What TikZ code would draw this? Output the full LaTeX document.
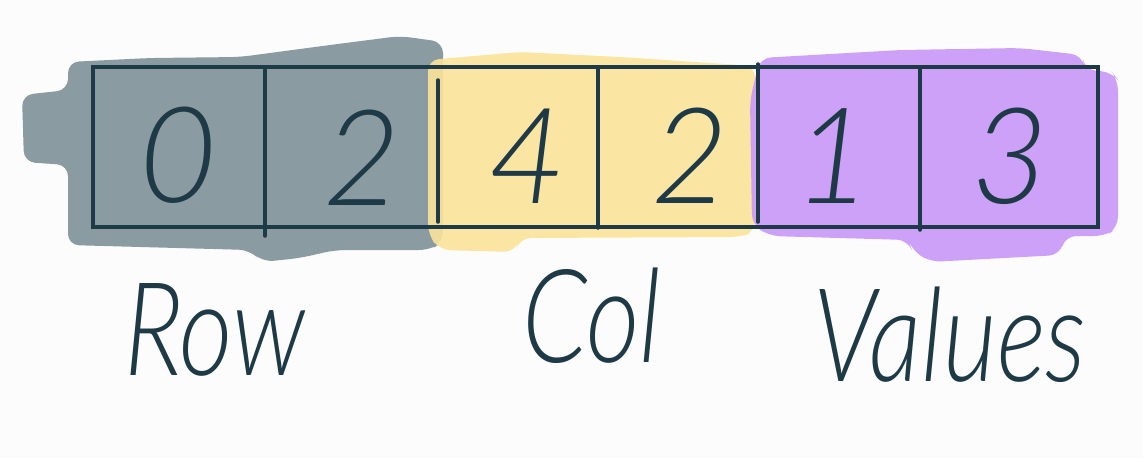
\documentclass[tikz,border=0pt]{standalone}
\usepackage{fontspec}
\setmainfont{Lato Light}
\definecolor{bg}{HTML}{FCFCFC}
\definecolor{ink}{HTML}{1E3A46}
\definecolor{hgrey}{HTML}{8A9BA1}
\definecolor{hyellow}{HTML}{FBE39A}
\definecolor{hpurple}{HTML}{C99AF8}
\tikzset{
  hl/.style={rounded corners=0.22cm, draw=none},
  grid/.style={draw=ink, line width=2pt, line cap=round},
  digit/.style={text=ink, font=\fontsize{76}{80}\selectfont\itshape, inner sep=0pt},
  lab/.style={text=ink, font=\fontsize{74}{78}\selectfont\itshape, inner sep=0pt, xscale=0.8}
}
\begin{document}
\begin{tikzpicture}[x=0.02cm, y=-0.02cm]
\fill[bg] (0,0) rectangle (1143,458);
\useasboundingbox (0,0) rectangle (1143,458);
% highlights
\fill[hgrey, hl] (68,62) -- (150,58) -- (240,57) -- (330,45) -- (400,36) -- (443,42)
  -- (443,242) -- (430,250) -- (335,250) -- (300,258) -- (262,262) -- (250,250)
  -- (68,245) -- (68,165) -- (24,162) -- (22,95) -- (68,90) -- cycle;
\fill[hyellow, hl, fill opacity=0.9] (428,60) -- (520,52) -- (620,57) -- (755,66)
  -- (755,232) -- (740,237) -- (520,238) -- (515,252) -- (440,250) -- (428,235) -- cycle;
\fill[hpurple, hl, fill opacity=0.92] (760,58) -- (900,50) -- (1020,48) -- (1082,55)
  -- (1085,70) -- (1112,72) -- (1118,80) -- (1118,228) -- (1105,236) -- (1065,236)
  -- (1060,255) -- (930,262) -- (912,250) -- (908,240) -- (770,236) -- (752,225)
  -- (750,100) -- cycle;
% array
\draw[grid] (93,67) rectangle (1098,227);
\draw[grid] (265,70) -- (265,236);
\draw[grid] (438,80) -- (438,222);
\draw[grid] (598,67) -- (598,228);
\draw[grid] (758,64) -- (758,222);
\draw[grid] (920,67) -- (920,230);
% digits
\node[digit] (d0) at (178,155) {0};
\node[digit] (d1) at (362,158) {2};
\node[digit] (d2) at (527,156) {4};
\node[digit] (d3) at (690,156) {2};
\node[digit] (d4) at (833,156) {1};
\node[digit] (d5) at (1010,156) {3};
% labels
\node[lab] (row) at (215,330) {Row};
\node[lab] (col) at (592,316) {Col};
\node[lab] (val) at (950,335) {Values};
\end{tikzpicture}
\end{document}
